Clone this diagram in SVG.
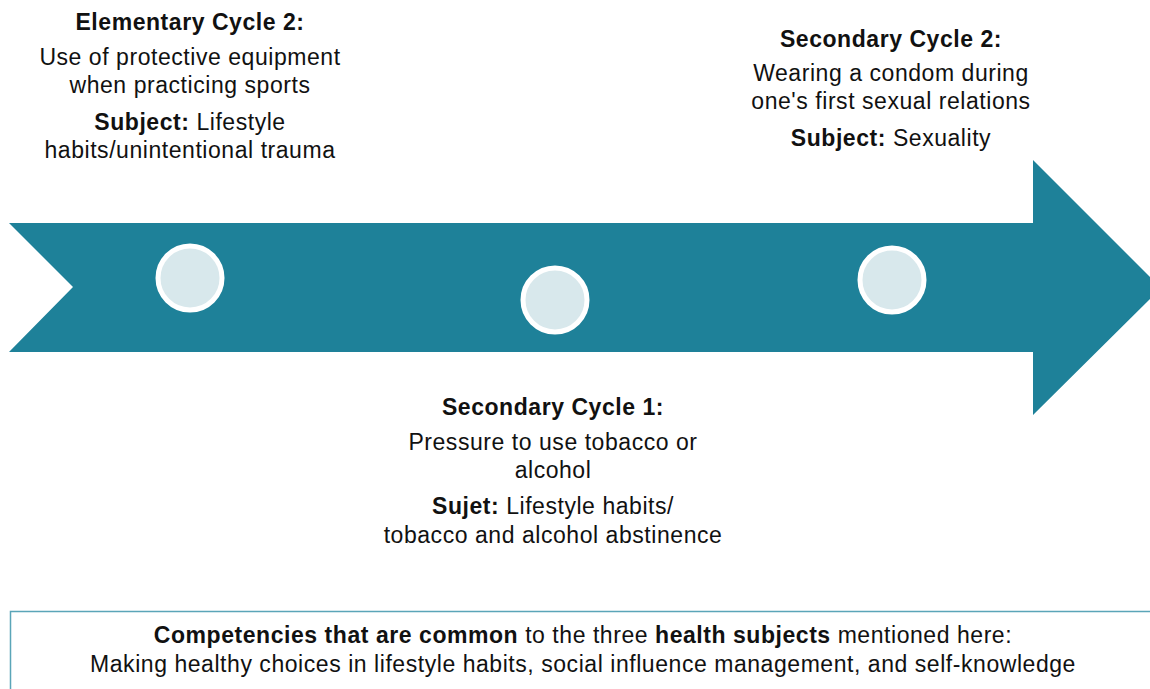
<svg xmlns="http://www.w3.org/2000/svg" width="1150" height="689" viewBox="0 0 1150 689">
<style>
text{font-family:"Liberation Sans",Arial,sans-serif;font-size:23px;letter-spacing:0.55px;fill:#111;text-anchor:middle}
.b{font-weight:bold}
.ring{fill:#d8e8ec;stroke:#fff;stroke-width:5}
</style>
<rect width="1150" height="689" fill="#fff"/>
<g id="arrow">
<polygon points="9,223 1033,223 1033,160 1161,288 1033,415 1033,352 9,352 73,287" fill="#1e8199"/>
</g>
<g id="connectors"></g>
<g id="node-ec2">
<circle class="ring" cx="190" cy="278" r="32"/>
<text x="190" y="30" class="b">Elementary Cycle 2:</text>
<text x="190" y="65">Use of protective equipment</text>
<text x="190" y="93">when practicing sports</text>
<text x="190" y="130"><tspan class="b">Subject:</tspan> Lifestyle</text>
<text x="190" y="158">habits/unintentional trauma</text>
</g>
<g id="node-sc1">
<circle class="ring" cx="555" cy="300" r="32"/>
<text x="553" y="415" class="b">Secondary Cycle 1:</text>
<text x="553" y="450">Pressure to use tobacco or</text>
<text x="553" y="478">alcohol</text>
<text x="553" y="514"><tspan class="b">Sujet:</tspan> Lifestyle habits/</text>
<text x="553" y="543">tobacco and alcohol abstinence</text>
</g>
<g id="node-sc2">
<circle class="ring" cx="892" cy="280" r="32"/>
<text x="891" y="47" class="b">Secondary Cycle 2:</text>
<text x="891" y="81">Wearing a condom during</text>
<text x="891" y="109">one's first sexual relations</text>
<text x="891" y="146"><tspan class="b">Subject:</tspan> Sexuality</text>
</g>
<g id="node-box">
<rect x="10.5" y="611.5" width="1150" height="100" fill="#fff" stroke="#5aa5b8" stroke-width="1.5"/>
<text x="583" y="643"><tspan class="b">Competencies that are common</tspan> to the three <tspan class="b">health subjects</tspan> mentioned here:</text>
<text x="583" y="672">Making healthy choices in lifestyle habits, social influence management, and self-knowledge</text>
</g>
</svg>
